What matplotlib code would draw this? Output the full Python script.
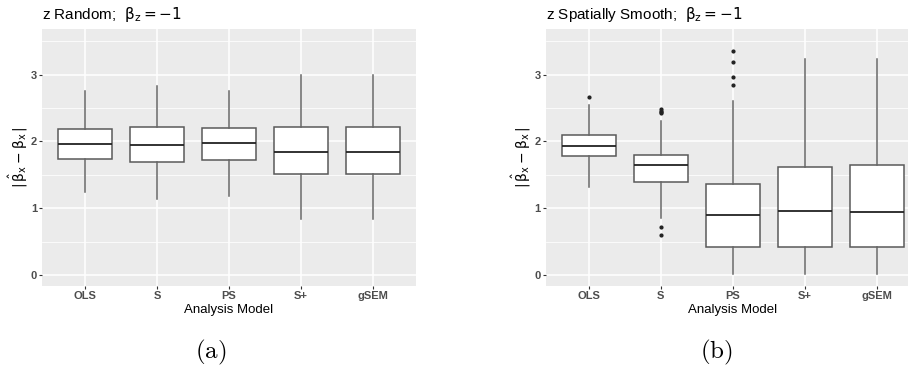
import matplotlib
matplotlib.use("Agg")
import matplotlib.pyplot as plt

categories = ["OLS", "S", "PS", "S+", "gSEM"]

# Panel (a): z Random
a_whislo = [1.24, 1.14, 1.19, 0.84, 0.84]
a_q1     = [1.735, 1.69, 1.72, 1.52, 1.52]
a_med    = [1.96, 1.94, 1.97, 1.845, 1.845]
a_q3     = [2.18, 2.21, 2.20, 2.21, 2.22]
a_whishi = [2.75, 2.83, 2.75, 3.00, 3.00]
a_fliers = [[], [], [], [], []]

# Panel (b): z Spatially Smooth
b_whislo = [1.32, 0.85, 0.02, 0.02, 0.02]
b_q1     = [1.78, 1.395, 0.42, 0.43, 0.43]
b_med    = [1.93, 1.645, 0.90, 0.955, 0.945]
b_q3     = [2.10, 1.80, 1.365, 1.625, 1.645]
b_whishi = [2.54, 2.30, 2.61, 3.23, 3.23]
b_fliers = [[2.67], [2.48, 2.46, 2.44, 2.42, 0.72, 0.605],
            [3.35, 3.19, 2.97, 2.85], [], []]

titles = [r"z Random;  $\mathrm{\beta_z = -1}$",
          r"z Spatially Smooth;  $\mathrm{\beta_z = -1}$"]
captions = ["(a)", "(b)"]
xlabel = "Analysis Model"
ylabel = r"$\mathrm{|\,\hat{\beta}_x - \beta_x\,|}$"
yticks = [0, 1, 2, 3]

plt.rcParams['font.family'] = ['Liberation Sans', 'DejaVu Sans']

W, H = 908, 369
fig = plt.figure(figsize=(W / 100, H / 100), dpi=100)

panels = [
    (a_whislo, a_q1, a_med, a_q3, a_whishi, a_fliers),
    (b_whislo, b_q1, b_med, b_q3, b_whishi, b_fliers),
]
lefts = [42, 545.7]
pw = 374
ptop, pbot = 29, 286
ylab_x = [18, 521]
cap_x = [211, 716]

for i, (wl, q1, med, q3, wh, fl) in enumerate(panels):
    ax = fig.add_axes([lefts[i] / W, 1 - pbot / H, pw / W, (pbot - ptop) / H])
    ax.set_facecolor('#EBEBEB')
    for s in ax.spines.values():
        s.set_visible(False)
    stats = []
    for j, c in enumerate(categories):
        stats.append(dict(label=c, whislo=wl[j], q1=q1[j], med=med[j],
                          q3=q3[j], whishi=wh[j], fliers=fl[j]))
    pos = list(range(1, len(categories) + 1))
    ax.bxp(stats, positions=pos, widths=0.75, patch_artist=True,
           showcaps=False,
           boxprops=dict(facecolor='white', edgecolor='#5a5a5a', linewidth=1.1),
           whiskerprops=dict(color='#666666', linewidth=1.1),
           medianprops=dict(color='#222222', linewidth=1.3),
           flierprops=dict(marker='o', markersize=2.0, markerfacecolor='#222222',
                           markeredgecolor='#222222', linestyle='none'),
           zorder=3)
    ax.set_xlim(0.4, 5.6)
    ax.set_ylim(-0.16, 3.68)
    ax.set_yticks(yticks)
    ax.set_yticks([0.5, 1.5, 2.5, 3.5], minor=True)
    ax.set_xticks(pos)
    ax.set_xticklabels(categories)
    ax.grid(True, which='major', color='white', linewidth=1.1, zorder=0)
    ax.grid(True, which='minor', axis='y', color='white', linewidth=0.55, zorder=0)
    ax.set_axisbelow(True)
    ax.tick_params(axis='both', which='major', length=2.5, width=0.8, color='#333333',
                   labelcolor='#4D4D4D', labelsize=8, pad=1)
    ax.tick_params(axis='y', which='minor', length=0)
    for lab in ax.get_xticklabels() + ax.get_yticklabels():
        lab.set_fontweight('bold')
    cx = lefts[i] + pw / 2
    fig.text(cx / W, 1 - 313.5 / H, xlabel, ha='center', va='baseline', fontsize=9.5)
    fig.text(ylab_x[i] / W, 1 - 157 / H, ylabel, ha='center', va='center',
             rotation=90, fontsize=10)
    fig.text(lefts[i] / W, 1 - 14 / H, titles[i], ha='left', va='center', fontsize=11)
    fig.text(cap_x[i] / W, 1 - 352 / H, r"$\mathrm{" + captions[i] + "}$",
             ha='center', va='center', fontsize=18, math_fontfamily='cm')

fig.savefig("out.png", dpi=100)
